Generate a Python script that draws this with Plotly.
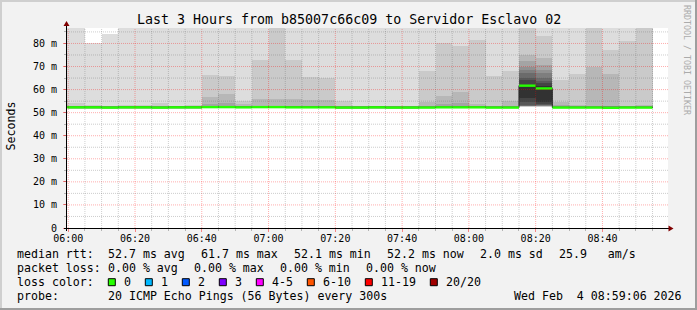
import plotly.graph_objects as go
from datetime import datetime, timedelta

# ---------------- data ----------------
DAY = "2026-02-04"
# end time of each 5-minute smokeping interval (step 300 s)
interval_end = ["06:00", "06:05", "06:10", "06:15", "06:20", "06:25", "06:30", "06:35",
                "06:40", "06:45", "06:50", "06:55", "07:00", "07:05", "07:10", "07:15",
                "07:20", "07:25", "07:30", "07:35", "07:40", "07:45", "07:50", "07:55",
                "08:00", "08:05", "08:10", "08:15", "08:20", "08:25", "08:30", "08:35",
                "08:40", "08:45", "08:50", "08:55"]

# median rtt per interval (ms)
median_ms = [52.3, 52.3, 52.3, 52.2, 52.3, 52.3, 52.2, 52.3, 52.3, 52.4, 52.4, 52.3,
             52.4, 52.4, 52.3, 52.3, 52.3, 52.2, 52.2, 52.3, 52.2, 52.2, 52.2, 52.3,
             52.3, 52.3, 52.2, 52.2, 61.7, 60.5, 52.2, 52.2, 52.2, 52.1, 52.2, 52.2]

# lost pings per interval (out of 20)
lost_pings = [0, 0, 0, 0, 0, 0, 0, 0, 0, 0, 0, 0, 0, 0, 0, 0, 0, 0,
              0, 0, 0, 0, 0, 0, 0, 0, 0, 0, 0, 0, 0, 0, 0, 0, 0, 0]

# the 20 sorted ping rtts of every interval (ms); 100.0 = beyond the top of the graph
pings = [
    [51.9, 52.0, 52.0, 52.1, 52.1, 52.2, 52.2, 52.2, 52.3, 52.3, 52.3, 52.4, 52.4, 52.5, 52.5, 52.6, 53.0, 53.6, 55.5, 100.0],
    [51.9, 52.0, 52.0, 52.1, 52.1, 52.2, 52.2, 52.2, 52.3, 52.3, 52.3, 52.4, 52.4, 52.5, 52.5, 52.6, 52.7, 52.8, 54.0, 100.0],
    [51.9, 52.0, 52.0, 52.1, 52.1, 52.2, 52.2, 52.2, 52.3, 52.3, 52.3, 52.4, 52.4, 52.5, 52.5, 52.6, 52.7, 52.8, 53.4, 80.0],
    [51.9, 52.0, 52.0, 52.1, 52.1, 52.1, 52.2, 52.2, 52.2, 52.2, 52.3, 52.3, 52.4, 52.4, 52.5, 52.6, 52.7, 52.8, 53.0, 84.2],
    [51.9, 52.0, 52.0, 52.1, 52.1, 52.2, 52.2, 52.2, 52.3, 52.3, 52.3, 52.4, 52.4, 52.5, 52.5, 52.6, 52.7, 52.8, 53.2, 100.0],
    [51.9, 52.0, 52.0, 52.1, 52.1, 52.2, 52.2, 52.2, 52.3, 52.3, 52.3, 52.4, 52.4, 52.5, 52.5, 52.6, 52.7, 52.8, 53.4, 100.0],
    [51.9, 52.0, 52.0, 52.1, 52.1, 52.1, 52.2, 52.2, 52.2, 52.2, 52.3, 52.3, 52.4, 52.4, 52.5, 52.6, 52.7, 52.8, 54.0, 100.0],
    [51.9, 52.0, 52.0, 52.1, 52.1, 52.2, 52.2, 52.2, 52.3, 52.3, 52.3, 52.4, 52.4, 52.5, 52.5, 52.6, 52.7, 52.8, 53.0, 100.0],
    [51.9, 52.0, 52.0, 52.1, 52.1, 52.2, 52.2, 52.2, 52.3, 52.3, 52.3, 52.4, 52.4, 52.5, 52.5, 52.6, 52.7, 52.8, 53.4, 100.0],
    [52.0, 52.0, 52.1, 52.1, 52.2, 52.2, 52.3, 52.3, 52.4, 52.4, 52.4, 52.4, 52.5, 52.5, 52.6, 52.7, 53.6, 57.0, 66.4, 100.0],
    [52.0, 52.0, 52.1, 52.1, 52.2, 52.2, 52.3, 52.3, 52.4, 52.4, 52.4, 52.4, 52.5, 52.5, 52.6, 52.7, 54.4, 58.2, 66.0, 100.0],
    [51.9, 52.0, 52.0, 52.1, 52.1, 52.2, 52.2, 52.2, 52.3, 52.3, 52.3, 52.4, 52.4, 52.5, 52.5, 52.6, 52.7, 53.8, 55.2, 100.0],
    [52.0, 52.0, 52.1, 52.1, 52.2, 52.2, 52.3, 52.3, 52.4, 52.4, 52.4, 52.4, 52.5, 52.5, 52.6, 52.7, 52.8, 56.0, 73.0, 100.0],
    [52.0, 52.0, 52.1, 52.1, 52.2, 52.2, 52.3, 52.3, 52.4, 52.4, 52.4, 52.4, 52.5, 52.5, 52.6, 52.7, 53.0, 56.0, 100.0, 100.0],
    [51.9, 52.0, 52.0, 52.1, 52.1, 52.2, 52.2, 52.2, 52.3, 52.3, 52.3, 52.4, 52.4, 52.5, 52.5, 52.6, 52.8, 56.0, 73.0, 100.0],
    [51.9, 52.0, 52.0, 52.1, 52.1, 52.2, 52.2, 52.2, 52.3, 52.3, 52.3, 52.4, 52.4, 52.5, 52.5, 52.6, 52.7, 55.6, 65.4, 100.0],
    [51.9, 52.0, 52.0, 52.1, 52.1, 52.2, 52.2, 52.2, 52.3, 52.3, 52.3, 52.4, 52.4, 52.5, 52.5, 52.6, 52.7, 55.6, 65.0, 100.0],
    [51.9, 52.0, 52.0, 52.1, 52.1, 52.1, 52.2, 52.2, 52.2, 52.2, 52.3, 52.3, 52.4, 52.4, 52.5, 52.6, 52.7, 52.8, 55.2, 100.0],
    [51.9, 52.0, 52.0, 52.1, 52.1, 52.1, 52.2, 52.2, 52.2, 52.2, 52.3, 52.3, 52.4, 52.4, 52.5, 52.6, 52.7, 52.8, 53.0, 100.0],
    [51.9, 52.0, 52.0, 52.1, 52.1, 52.2, 52.2, 52.2, 52.3, 52.3, 52.3, 52.4, 52.4, 52.5, 52.5, 52.6, 52.7, 52.8, 53.0, 100.0],
    [51.9, 52.0, 52.0, 52.1, 52.1, 52.1, 52.2, 52.2, 52.2, 52.2, 52.3, 52.3, 52.4, 52.4, 52.5, 52.6, 52.7, 52.7, 52.8, 100.0],
    [51.9, 52.0, 52.0, 52.1, 52.1, 52.1, 52.2, 52.2, 52.2, 52.2, 52.3, 52.3, 52.4, 52.4, 52.5, 52.6, 52.7, 52.7, 52.8, 100.0],
    [51.9, 52.0, 52.0, 52.1, 52.1, 52.1, 52.2, 52.2, 52.2, 52.2, 52.3, 52.3, 52.4, 52.4, 52.5, 52.6, 52.7, 54.6, 67.9, 100.0],
    [51.9, 52.0, 52.0, 52.1, 52.1, 52.2, 52.2, 52.2, 52.3, 52.3, 52.3, 52.4, 52.4, 52.5, 52.5, 52.6, 53.9, 57.3, 80.0, 100.0],
    [51.9, 52.0, 52.0, 52.1, 52.1, 52.2, 52.2, 52.2, 52.3, 52.3, 52.3, 52.4, 52.4, 52.5, 52.5, 52.6, 54.4, 58.8, 79.1, 100.0],
    [51.9, 52.0, 52.0, 52.1, 52.1, 52.2, 52.2, 52.2, 52.3, 52.3, 52.3, 52.4, 52.4, 52.5, 52.5, 52.6, 52.7, 53.9, 81.3, 100.0],
    [51.9, 52.0, 52.0, 52.1, 52.1, 52.1, 52.2, 52.2, 52.2, 52.2, 52.3, 52.3, 52.4, 52.4, 52.5, 52.6, 52.7, 53.0, 66.0, 100.0],
    [51.9, 52.0, 52.0, 52.1, 52.1, 52.1, 52.2, 52.2, 52.2, 52.2, 52.3, 52.3, 52.4, 52.4, 52.5, 52.6, 52.7, 54.9, 67.9, 100.0],
    [52.6, 52.65, 52.7, 52.75, 52.8, 52.9, 53.0, 53.2, 54.5, 56.5, 62.1, 64.0, 65.0, 67.1, 68.6, 70.0, 72.2, 75.1, 100.0, 100.0],
    [52.5, 52.6, 52.7, 52.8, 52.9, 53.0, 53.2, 53.4, 53.6, 54.5, 61.5, 62.8, 63.8, 65.0, 67.2, 68.6, 70.8, 73.6, 83.1, 100.0],
    [51.9, 52.0, 52.0, 52.1, 52.1, 52.1, 52.2, 52.2, 52.2, 52.2, 52.3, 52.3, 52.4, 52.4, 52.5, 52.6, 53.4, 54.6, 64.2, 100.0],
    [51.9, 52.0, 52.0, 52.1, 52.1, 52.1, 52.2, 52.2, 52.2, 52.2, 52.3, 52.3, 52.4, 52.4, 52.5, 52.6, 52.7, 53.4, 66.9, 100.0],
    [51.9, 52.0, 52.0, 52.1, 52.1, 52.1, 52.2, 52.2, 52.2, 52.2, 52.3, 52.3, 52.4, 52.4, 52.5, 52.6, 52.8, 69.8, 100.0, 100.0],
    [51.8, 51.9, 52.0, 52.0, 52.1, 52.1, 52.1, 52.1, 52.2, 52.2, 52.2, 52.3, 52.3, 52.4, 52.5, 52.6, 52.8, 66.9, 77.3, 100.0],
    [51.9, 52.0, 52.0, 52.1, 52.1, 52.1, 52.2, 52.2, 52.2, 52.2, 52.3, 52.3, 52.4, 52.4, 52.5, 52.6, 52.7, 52.9, 81.2, 100.0],
    [51.9, 52.0, 52.0, 52.1, 52.1, 52.1, 52.2, 52.2, 52.2, 52.2, 52.3, 52.3, 52.4, 52.4, 52.5, 52.6, 52.7, 53.2, 100.0, 100.0],
]

y_tick_vals = [0, 10, 20, 30, 40, 50, 60, 70, 80]
y_tick_text = ["0", "10 m", "20 m", "30 m", "40 m", "50 m", "60 m", "70 m", "80 m"]

loss_labels = ["0", "1", "2", "3", "4-5", "6-10", "11-19", "20/20"]
loss_upper = [0, 1, 2, 3, 5, 10, 19, 20]
loss_colors = ["#26ff00", "#00b8ff", "#0059ff", "#7e00ff", "#ff00ff", "#ff5500", "#ff0000", "#a10000"]

title_text = "Last 3 Hours from b85007c66c09 to Servidor Esclavo 02"
rtt_items = ["median rtt:", "52.7 ms avg", "61.7 ms max", "52.1 ms min", "52.2 ms now",
             "2.0 ms sd", "25.9   am/s"]
loss_items = ["packet loss:", "0.00 % avg", "0.00 % max", "0.00 % min", "0.00 % now"]
probe_items = ["probe:", "20 ICMP Echo Pings (56 Bytes) every 300s"]
date_text = "Wed Feb  4 08:59:06 2026"
y_title = "Seconds"
watermark = "RRDTOOL / TOBI OETIKER"

# ---------------- geometry / style ----------------
W, H = 697, 310
ML, MR, MT, MB = 67, 29, 28, 82
PW, PH = W - ML - MR, H - MT - MB
MONO = "DejaVu Sans Mono"
STEP = timedelta(seconds=300)
x_start = datetime.strptime(DAY + " 05:59:38", "%Y-%m-%d %H:%M:%S")
x_end = x_start + timedelta(hours=3)
Y_MAX = 86.7


def nb(s):
    return s.replace(" ", "\u00a0")


def px_x(px):
    return (px - ML) / PW


def px_y(py):
    return (H - MB - py) / PH


ends = [datetime.strptime(DAY + " " + t, "%Y-%m-%d %H:%M") for t in interval_end]
starts = [e - STEP for e in ends]
centers = [s + STEP / 2 for s in starts]

fig = go.Figure()

# smoke: band i spans ping i .. ping (21-i), outer bands lightest
half = 10
for i in range(half):
    lo = [row[i] for row in pings]
    hi = [row[19 - i] for row in pings]
    g = int(190 / half * (half - (i + 1))) + 50
    fig.add_trace(go.Bar(
        x=centers, y=[h - l for h, l in zip(hi, lo)], base=lo, width=300000,
        marker=dict(color="rgb(%d,%d,%d)" % (g, g, g), line=dict(width=0)),
        hoverinfo="skip", showlegend=False))

# thin dark median trace (shows on the vertical jumps)
fig.add_trace(go.Scatter(
    x=starts + [ends[-1]], y=median_ms + [median_ms[-1]], mode="lines",
    line=dict(color="#202020", width=1, shape="hv"), hoverinfo="skip", showlegend=False))


def loss_color(n):
    for up, c in zip(loss_upper, loss_colors):
        if n <= up:
            return c
    return loss_colors[-1]


# median bars coloured by loss
for c in loss_colors:
    xs, ys = [], []
    for s, e, m, n in zip(starts, ends, median_ms, lost_pings):
        if loss_color(n) == c:
            xs += [s, e, None]
            ys += [m, m, None]
    if xs:
        fig.add_trace(go.Scatter(x=xs, y=ys, mode="lines", line=dict(color=c, width=2.4),
                                 hoverinfo="skip", showlegend=False))

shapes = []
# grid on top of the smoke
RED_GRID = "rgba(255,0,0,0.32)"
GRAY_GRID = "rgba(90,90,90,0.30)"
t = datetime.strptime(DAY + " 06:00", "%Y-%m-%d %H:%M")
while t < x_end:
    major = (t.minute % 20 == 0)
    shapes.append(dict(type="line", xref="x", yref="paper", x0=t, x1=t, y0=0, y1=1, layer="above",
                       line=dict(color=RED_GRID if major else GRAY_GRID, width=1, dash="1px,1px")))
    t += STEP
v = 5
while v < Y_MAX:
    major = (v % 10 == 0)
    shapes.append(dict(type="line", xref="paper", yref="y", x0=0, x1=1, y0=v, y1=v, layer="above",
                       line=dict(color=RED_GRID if major else GRAY_GRID, width=1, dash="1px,1px")))
    v += 5

# axes with arrows
AX = "#000000"
ARROW = "#800000"
pix = dict(xref="paper", yref="paper", xsizemode="pixel", ysizemode="pixel", xanchor=0, yanchor=0,
           layer="above")
shapes.append(dict(type="line", x0=-3, x1=602, y0=-0.5, y1=-0.5, line=dict(color=AX, width=1), **pix))
shapes.append(dict(type="line", x0=-0.5, x1=-0.5, y0=-3, y1=203, line=dict(color=AX, width=1), **pix))
shapes.append(dict(type="path", path="M 601.5,2.5 L 606.5,-0.5 L 601.5,-3.5 Z",
                   fillcolor=ARROW, line=dict(width=0), **pix))
shapes.append(dict(type="path", path="M -3.5,202 L 2.5,202 L -0.5,207 Z",
                   fillcolor=ARROW, line=dict(width=0), **pix))

# frame of the image
L0, R0, T0, B0 = -ML, W - ML, H - MB, -MB
shapes.append(dict(type="rect", x0=L0, x1=R0, y0=T0 - 2, y1=T0, fillcolor="#cfcfcf", line=dict(width=0), **pix))
shapes.append(dict(type="rect", x0=L0, x1=L0 + 2, y0=B0, y1=T0, fillcolor="#cfcfcf", line=dict(width=0), **pix))
shapes.append(dict(type="rect", x0=R0 - 2, x1=R0, y0=B0, y1=T0, fillcolor="#9e9e9e", line=dict(width=0), **pix))
shapes.append(dict(type="rect", x0=L0, x1=R0, y0=B0, y1=B0 + 2, fillcolor="#9e9e9e", line=dict(width=0), **pix))

annotations = []


def ann(text, px, py, size, xanchor="left", color="#000000", angle=0):
    annotations.append(dict(text=nb(text), xref="paper", yref="paper", x=px_x(px), y=px_y(py),
                            xanchor=xanchor, yanchor="middle", showarrow=False, borderpad=0,
                            textangle=angle, font=dict(family=MONO, size=size, color=color)))


ann(title_text, 348.5, 19, 13.3, xanchor="center")
ann(y_title, 10, 126.5, 11.6, xanchor="center", angle=-90)
ann(watermark, 687, 60, 8.3, xanchor="center", color="#ababab", angle=90)

CW = 7.0
LEG = 11.6
rows_y = [254.2, 267.8, 282.2, 296.2]

x = 16.0
for k, item in enumerate(rtt_items):
    px = 16.0 if k == 0 else x
    ann(item, px, rows_y[0], LEG)
    x = 107.3 if k == 0 else px + CW * len(item) + 16
x = 16.0
for k, item in enumerate(loss_items):
    px = 16.0 if k == 0 else x
    ann(item, px, rows_y[1], LEG)
    x = 107.3 if k == 0 else px + CW * len(item) + 16

ann("loss color:", 16, rows_y[2], LEG)
bx = 108.3
for lab, col in zip(loss_labels, loss_colors):
    yb = rows_y[2]
    shapes.append(dict(type="rect", x0=bx - ML, x1=bx + 7 - ML, y0=(H - MB) - (yb + 3.5), y1=(H - MB) - (yb - 3.5),
                       fillcolor=col, line=dict(color="#000000", width=1), **pix))
    ann(lab, bx + 15, yb, LEG)
    bx = bx + 15 + CW * len(lab) + 15

ann(probe_items[0], 16, rows_y[3], LEG)
ann(probe_items[1], 107.3, rows_y[3], LEG)
ann(date_text, 513.3, rows_y[3], LEG)

fig.update_layout(
    width=W, height=H,
    margin=dict(l=ML, r=MR, t=MT, b=MB, pad=0),
    paper_bgcolor="#f2f2f2", plot_bgcolor="#ffffff",
    barmode="overlay", bargap=0, showlegend=False,
    shapes=shapes, annotations=annotations,
    xaxis=dict(type="date", range=[x_start, x_end], showgrid=False, zeroline=False, showline=False,
               tickformat="%H:%M", tick0=DAY + " 06:00", dtick=1200000,
               ticks="outside", ticklen=3, tickcolor="rgba(255,0,0,0.45)", tickwidth=1,
               ticklabelstandoff=-2,
               tickfont=dict(family=MONO, size=10, color="#000000"),
               minor=dict(dtick=300000, tick0=DAY + " 06:00", ticks="outside", ticklen=2,
                          tickcolor="rgba(90,90,90,0.4)", showgrid=False),
               fixedrange=True),
    yaxis=dict(range=[0, Y_MAX], showgrid=False, zeroline=False, showline=False,
               tickmode="array", tickvals=y_tick_vals, ticktext=y_tick_text,
               ticks="outside", ticklen=3, tickcolor="rgba(255,0,0,0.45)", tickwidth=1,
               ticklabelstandoff=4,
               tickfont=dict(family=MONO, size=10, color="#000000"),
               minor=dict(tickmode="linear", tick0=0, dtick=5, ticks="outside", ticklen=2,
                          tickcolor="rgba(90,90,90,0.4)", showgrid=False),
               fixedrange=True),
)

fig.write_html("out.html")
